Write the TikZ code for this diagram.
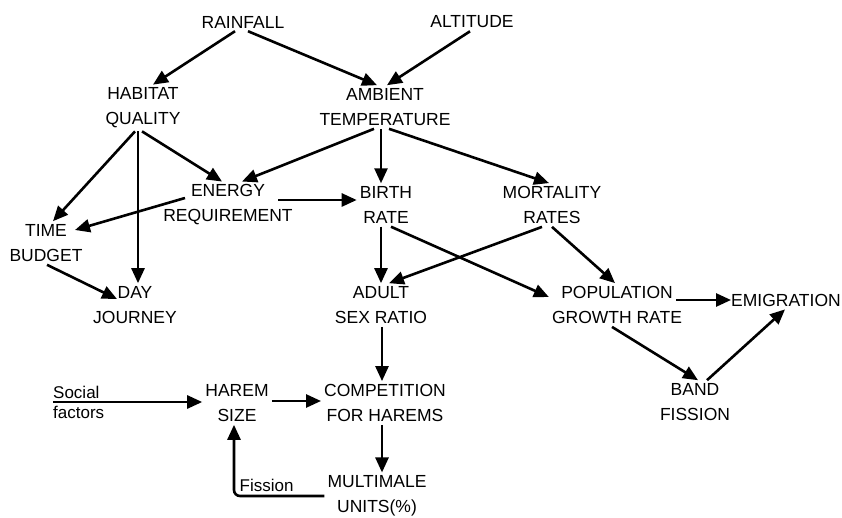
\documentclass[tikz,border=0pt]{standalone}
\usepackage{fontspec}
\setmainfont{Liberation Sans}
\usetikzlibrary{arrows.meta}

\begin{document}
\begin{tikzpicture}[x=1pt, y=-1pt,
    box/.style={align=center, inner sep=3pt, font=\fontsize{17.5}{25}\selectfont},
    lbl/.style={font=\fontsize{17}{20}\selectfont},
    arr/.style={-{Triangle[length=15pt,width=13pt]}, line width=2.6pt}]
    \useasboundingbox (0,0) rectangle (842,518);
    \node[box] (rain) at (243,22) {RAINFALL};
    \node[box] (alt) at (472,22) {ALTITUDE};
    \node[box] (hab) at (143,108) {HABITAT\\QUALITY};
    \node[box] (amb) at (385,107) {AMBIENT\\TEMPERATURE};
    \node[box] (energy) at (228,205) {ENERGY\\REQUIREMENT};
    \node[box] (birth) at (386,205) {BIRTH\\RATE};
    \node[box] (mort) at (552,205) {MORTALITY\\RATES};
    \node[box] (time) at (46,243) {TIME\\BUDGET};
    \node[box] (day) at (135,305) {DAY\\JOURNEY};
    \node[box] (adult) at (381,305) {ADULT\\SEX RATIO};
    \node[box] (pop) at (617,305) {POPULATION\\GROWTH RATE};
    \node[box] (emig) at (786,300) {EMIGRATION};
    \node[box] (band) at (695,402) {BAND\\FISSION};
    \node[box] (harem) at (237,403) {HAREM\\SIZE};
    \node[box] (comp) at (385,403) {COMPETITION\\FOR HAREMS};
    \node[box] (multi) at (377,496) {MULTIMALE\\UNITS(\%)};
    \node[lbl, align=left, inner sep=0pt, anchor=west] (social) at (53,402) {Social\\factors};

    \draw[arr] ([xshift=-8pt]rain.south) -- ([xshift=10pt]hab.north);
    \draw[arr] ([xshift=5pt]rain.south) -- ([xshift=-8pt]amb.north);
    \draw[arr] ([xshift=-2pt]alt.south) -- ([xshift=2pt]amb.north);
    \draw[arr] ([xshift=-8pt]hab.south) -- ([xshift=7pt]time.north);
    \draw[arr] ([xshift=-5pt]hab.south) -- ([xshift=3pt]day.north);
    \draw[arr] ([xshift=-1pt]hab.south) -- ([xshift=-6pt]energy.north);
    \draw[arr] ([xshift=-11pt]amb.south) -- ([xshift=14pt]energy.north);
    \draw[arr] ([xshift=-4pt]amb.south) -- ([xshift=-5pt]birth.north);
    \draw[arr] ([xshift=4pt]amb.south) -- ([xshift=-3pt]mort.north);
    \draw[arr] ([shift={(-43pt,7pt)}]energy.center) -- ([shift={(29pt,13pt)}]time.center);
    \draw[arr] ([shift={(50pt,5pt)}]energy.center) -- ([yshift=5pt]birth.west);
    \draw[arr] ([xshift=1pt]time.south) -- ([shift={(-18pt,6pt)}]day.center);
    \draw[arr] ([xshift=-5pt]birth.south) -- (adult.north);
    \draw[arr] ([xshift=5pt]birth.south) -- ([yshift=8pt]pop.west);
    \draw[arr] ([xshift=-10pt]mort.south) -- ([xshift=8pt]adult.north);
    \draw[arr] (mort.south) -- ([xshift=-2pt]pop.north);
    \draw[arr] ([shift={(-9pt,5pt)}]pop.east) -- ([xshift=3pt]emig.west);
    \draw[arr] ([xshift=-5pt]pop.south) -- ([xshift=3pt]band.north);
    \draw[arr] ([xshift=12pt]band.north) -- ([xshift=-1pt]emig.south);
    \draw[arr] ([xshift=1pt]adult.south) -- ([xshift=-3pt]comp.north);
    \draw[arr] ([yshift=2pt]harem.east) -- ([yshift=2pt]comp.west);
    \draw[arr] ([xshift=-3pt]comp.south) -- ([xshift=5pt]multi.north);
    \draw[arr, rounded corners=6pt] (multi.west) -| node[lbl, pos=0.32, above] (fis) {Fission} ([xshift=-3pt]harem.south);
    \draw[arr] (social.west) -- ([yshift=1pt]harem.west);
\end{tikzpicture}
\end{document}
